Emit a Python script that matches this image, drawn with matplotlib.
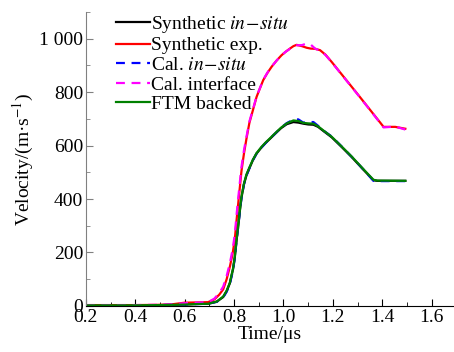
import numpy as np
import matplotlib
matplotlib.use('Agg')
import matplotlib.pyplot as plt
from matplotlib.ticker import MultipleLocator, FuncFormatter

plt.rcParams['font.family'] = ['Liberation Serif', 'DejaVu Serif']
plt.rcParams['mathtext.fontset'] = 'stix'

# time points (us) and velocities (m/s)
t_exp = [0.2, 0.3, 0.4, 0.5, 0.55, 0.6, 0.65, 0.695, 0.72, 0.74, 0.756, 0.77, 0.783,
         0.794, 0.803, 0.81, 0.817, 0.824, 0.83, 0.84, 0.85, 0.862, 0.877, 0.891,
         0.905, 0.918, 0.935, 0.952, 0.972, 0.992, 1.01, 1.026, 1.04, 1.053, 1.075,
         1.094, 1.11, 1.128, 1.148, 1.17, 1.195, 1.249, 1.303, 1.357, 1.405, 1.452, 1.493]
v_exp = [3, 3, 3, 4, 6, 12, 13, 14, 24, 42, 62, 100, 147,
         195, 250, 320, 385, 450, 505, 570, 625, 685, 735, 782,
         815, 845, 872, 895, 918, 938, 952, 963, 972, 977, 972,
         966, 963, 962, 957, 940, 913, 851, 789, 726, 670, 670, 663]

t_cal_if = t_exp
v_cal_if = [3, 3, 3, 4, 6, 10, 12, 14, 27, 48, 72, 112, 160,
            210, 268, 340, 405, 468, 520, 582, 632, 690, 738, 784,
            816, 846, 873, 896, 918, 938, 952, 962, 970, 975, 976,
            982, 978, 963, 955, 939, 912, 850, 788, 725, 668, 671, 660]

t_ins = [0.2, 0.3, 0.4, 0.5, 0.6, 0.65, 0.695, 0.73, 0.756, 0.77, 0.783, 0.796, 0.803,
         0.81, 0.817, 0.824, 0.83, 0.84, 0.85, 0.862, 0.876, 0.891, 0.91, 0.928,
         0.945, 0.965, 0.99, 1.013, 1.04, 1.06, 1.08, 1.1, 1.121, 1.14, 1.165, 1.195,
         1.235, 1.276, 1.32, 1.364, 1.38, 1.493]
v_syn_ins = [2, 2, 2, 3, 5, 7, 8, 16, 33, 55, 85, 138, 182,
             245, 300, 360, 405, 455, 488, 515, 545, 570, 592, 610,
             625, 643, 665, 680, 688, 686, 682, 679, 678, 670, 652, 631,
             595, 557, 513, 470, 468, 468]
v_cal_ins = [2, 2, 2, 3, 5, 7, 8, 15, 32, 53, 82, 135, 180,
             243, 298, 358, 404, 455, 488, 515, 545, 570, 592, 610,
             626, 644, 667, 684, 697, 698, 686, 688, 688, 674, 654, 634,
             597, 558, 514, 468, 467, 467]
v_ftm = [2, 2, 2, 3, 5, 7, 8, 16, 35, 57, 87, 141, 185,
         248, 303, 363, 410, 458, 492, 518, 547, 572, 594, 612,
         627, 645, 667, 683, 694, 692, 685, 683, 682, 672, 654, 633,
         597, 559, 515, 472, 469, 468]

fig = plt.figure(figsize=(4.54, 3.52), dpi=100)
ax = fig.add_axes([0.189, 0.131, 0.811, 0.835])

ax.plot(t_ins, v_syn_ins, color='black', lw=1.6, label='Synthetic $in\\!-\\!situ$')
ax.plot(t_exp, v_exp, color='red', lw=1.6, label='Synthetic exp.')
ax.plot(t_ins, v_cal_ins, color='blue', lw=1.6, ls=(0, (4, 3)), label='Cal. $in\\!-\\!situ$')
ax.plot(t_cal_if, v_cal_if, color='magenta', lw=1.6, ls=(0, (4, 3)), label='Cal. interface')
ax.plot(t_ins, v_ftm, color='green', lw=1.6, label='FTM backed')

ax.set_xlim(0.2, 1.69)
ax.set_ylim(0, 1100)
ax.xaxis.set_major_locator(MultipleLocator(0.2))
ax.xaxis.set_minor_locator(MultipleLocator(0.1))
ax.yaxis.set_major_locator(MultipleLocator(200))
ax.yaxis.set_minor_locator(MultipleLocator(100))
ax.xaxis.set_major_formatter(FuncFormatter(lambda x, p: f'{x:.1f}'))
ax.yaxis.set_major_formatter(FuncFormatter(lambda y, p: '1 000' if abs(y - 1000) < 1 else f'{y:.0f}'))

for s in ['top', 'right']:
    ax.spines[s].set_visible(False)
ax.spines['left'].set_color('#808080')
ax.spines['bottom'].set_color('black')
ax.tick_params(which='both', direction='in', labelsize=14, pad=2)
ax.tick_params(axis='y', which='both', color='#808080')
ax.tick_params(which='major', length=5)
ax.tick_params(which='minor', length=3)

ax.set_xlabel('Time/μs', fontsize=14, labelpad=0)
ax.set_ylabel('Velocity/(m·s$^{-1}$)', fontsize=14, labelpad=2)

ax.legend(loc='upper left', bbox_to_anchor=(0.06, 1.02), frameon=False, fontsize=14,
          handlelength=1.75, handletextpad=0.05, labelspacing=0.1, borderaxespad=0)

fig.savefig('out.png', dpi=100)
